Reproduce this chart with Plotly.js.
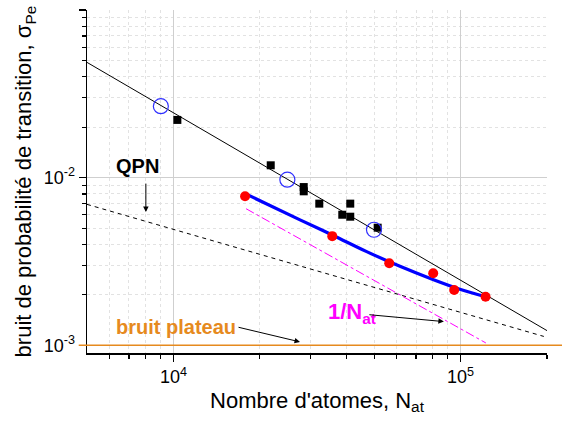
<!DOCTYPE html>
<html>
<head>
<meta charset="utf-8">
<script src="https://cdn.plot.ly/plotly-3.0.1.min.js"></script>
<style>html,body{margin:0;padding:0;background:#fff;}#chart{width:562px;height:434px;}</style>
</head>
<body>
<div id="chart"></div>
<script>
// Fitted line through the open circles (slope ~ -1)
const lineN = [5000, 200000];
const lineS = [0.0487, 0.001224];
// QPN limit (dashed)
const qpnN = [5000, 195000];
const qpnS = [0.00693, 0.00113];
// 1/N_at (magenta dash-dot)
const invN = [17900, 122500];
const invS = [0.00653, 0.001033];
// Blue fit curve
const fitN = [17860, 27600, 36040, 47100, 61500, 80100, 99450, 122200];
const fitS = [0.00800, 0.00560, 0.00452, 0.00362, 0.00296, 0.00247, 0.00216, 0.00195];
// Red measured points
const redN = [17760, 35740, 56430, 80300, 95000, 122200];
const redS = [0.00774, 0.00448, 0.00309, 0.00269, 0.00214, 0.00195];
// Black squares
const sqN = [10320, 21820, 28430, 28430, 32210, 41290, 38730, 41290, 51440];
const sqS = [0.0221, 0.01185, 0.00879, 0.00829, 0.0070, 0.0070, 0.00601, 0.00585, 0.00503];
// Blue open circles
const circN = [9040, 24930, 49930];
const circS = [0.0267, 0.00973, 0.00489];
// Plateau noise level
const plateauLevel = 0.001;
// Tick labels
const xTickVals = [10000, 100000];
const xTickText = ['10<sup>4</sup>', '10<sup>5</sup>'];
const yTickVals = [0.001, 0.01, 0.1];
const yTickText = ['10<sup>-3</sup>', '10<sup>-2</sup>', '10<sup>-1</sup>'];
// Minor tick positions
const xMinorVals = [6000, 7000, 8000, 9000, 20000, 30000, 40000, 50000, 60000, 70000, 80000, 90000, 200000];
const yMinorVals = [0.002, 0.003, 0.004, 0.005, 0.006, 0.007, 0.008, 0.009,
                    0.02, 0.03, 0.04, 0.05, 0.06, 0.07, 0.08, 0.09];

const FONT = '"Liberation Sans", Arial, sans-serif';
const L = Math.log10;

const traces = [
  {x: qpnN, y: qpnS, mode: 'lines', line: {color: '#000', width: 1, dash: '4px,4px'}},
  {x: invN, y: invS, mode: 'lines', line: {color: '#ff00ff', width: 1, dash: 'dashdot'}},
  {x: lineN, y: lineS, mode: 'lines', line: {color: '#000', width: 1}},
  {x: fitN, y: fitS, mode: 'lines', line: {color: '#0000ff', width: 3.2, shape: 'spline', smoothing: 1}},
  {x: sqN, y: sqS, mode: 'markers', marker: {symbol: 'square', color: '#000', size: 8}},
  {x: redN, y: redS, mode: 'markers', marker: {symbol: 'circle', color: '#ff0000', size: 10}},
  {x: circN, y: circS, mode: 'markers', marker: {symbol: 'circle-open', color: '#3030ff', size: 15, line: {width: 1.2, color: '#3030ff'}}}
];

function minorCfg(vals) {
  return {tickmode: 'array', tickvals: vals, ticks: 'outside', ticklen: 4, tickwidth: 1.2, tickcolor: '#000',
    showgrid: true, gridcolor: '#e2e2e2', griddash: 'dot', gridwidth: 1};
}

const layout = {
  width: 562, height: 434,
  margin: {l: 87, r: 15, t: 10, b: 81},
  paper_bgcolor: '#fff', plot_bgcolor: '#fff',
  showlegend: false,
  font: {family: FONT, color: '#000'},
  xaxis: {
    type: 'log', range: [L(5000), L(200000)], tickmode: 'array', tickvals: xTickVals, ticktext: xTickText,
    showline: true, linecolor: '#000', linewidth: 1.5,
    ticks: 'outside', ticklen: 7, tickwidth: 1.5, tickcolor: '#000',
    showgrid: true, gridcolor: '#cfcfcf', gridwidth: 1, zeroline: false,
    minor: minorCfg(xMinorVals),
    tickfont: {size: 18, family: FONT, color: '#000'},
    title: {text: "Nombre d'atomes, N<sub>at</sub>", font: {size: 22, family: FONT, color: '#000'}, standoff: 6}
  },
  yaxis: {
    type: 'log', range: [L(0.0009), -1], tickmode: 'array', tickvals: yTickVals, ticktext: yTickText,
    showline: true, linecolor: '#000', linewidth: 1.5,
    ticks: 'outside', ticklen: 7, tickwidth: 1.5, tickcolor: '#000',
    showgrid: true, gridcolor: '#cfcfcf', gridwidth: 1, zeroline: false,
    minor: minorCfg(yMinorVals),
    tickfont: {size: 18, family: FONT, color: '#000'}
  },
  shapes: [
    {type: 'line', xref: 'paper', x0: -0.018, x1: 1.04, yref: 'y', y0: plateauLevel, y1: plateauLevel,
     line: {color: '#e68a1e', width: 1.5}}
  ],
  annotations: [
    {xref: 'paper', yref: 'paper', x: -0.135, y: 0.5, xanchor: 'center', yanchor: 'middle', textangle: -90,
     text: 'bruit de probabilité de transition, σ<sub>Pe</sub>', showarrow: false,
     font: {size: 22, family: FONT, color: '#000'}},
    {xref: 'x', yref: 'y', x: 3.8737, y: -1.932, text: '<b>QPN</b>', showarrow: false,
     font: {size: 20, family: FONT, color: '#000'}},
    {xref: 'x', yref: 'y', x: 3.904, y: -2.2053, text: '', showarrow: true, ax: 0, ay: -30,
     arrowhead: 2, arrowsize: 1.1, arrowwidth: 1, arrowcolor: '#000'},
    {xref: 'x', yref: 'y', x: 4.5313, y: -2.8046, text: '<b>1/N<sub>at</sub></b>', showarrow: false, xanchor: 'left',
     font: {size: 22, family: FONT, color: '#ff00ff'}},
    {xref: 'x', yref: 'y', x: 4.9419, y: -2.8584, text: '', showarrow: true, ax: -76, ay: -7,
     arrowhead: 2, arrowsize: 1.1, arrowwidth: 1, arrowcolor: '#000'},
    {xref: 'x', yref: 'y', x: 4.0104, y: -2.8883, text: '<b>bruit plateau</b>', showarrow: false,
     font: {size: 20, family: FONT, color: '#e68a1e'}},
    {xref: 'x', yref: 'y', x: 4.4409, y: -2.9797, text: '', showarrow: true, ax: -63, ay: -15,
     arrowhead: 2, arrowsize: 1.1, arrowwidth: 1, arrowcolor: '#000'}
  ]
};

Plotly.newPlot('chart', traces, layout, {staticPlot: true, displayModeBar: false});
</script>
</body>
</html>
